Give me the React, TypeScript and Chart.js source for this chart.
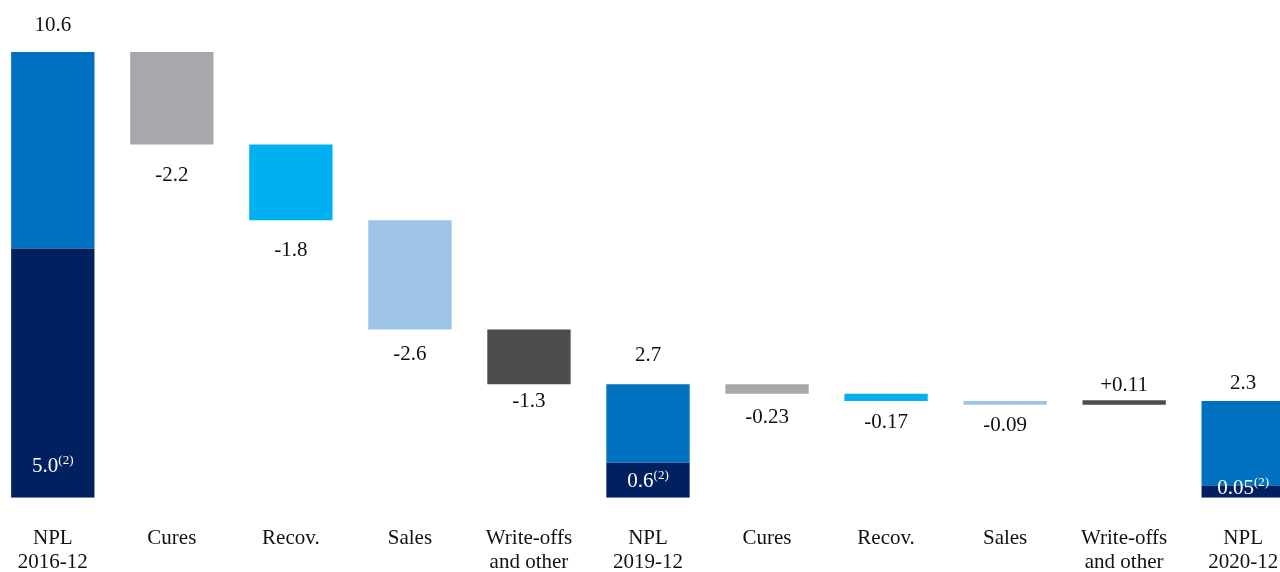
import React, { useEffect, useRef } from "react";
import { Chart, registerables } from "chart.js";

Chart.register(...registerables);

const categories: string[][] = [
  ["NPL", "2016-12"],
  ["Cures"],
  ["Recov."],
  ["Sales"],
  ["Write-offs", "and other"],
  ["NPL", "2019-12"],
  ["Cures"],
  ["Recov."],
  ["Sales"],
  ["Write-offs", "and other"],
  ["NPL", "2020-12"],
];
const isTotal = [true, false, false, false, false, true, false, false, false, false, true];
const values = [10.6, -2.2, -1.8, -2.6, -1.3, 2.7, -0.23, -0.17, -0.09, 0.11, 2.3];
const valueLabels = ["10.6", "-2.2", "-1.8", "-2.6", "-1.3", "2.7", "-0.23", "-0.17", "-0.09", "+0.11", "2.3"];
const baseValues: (number | null)[] = [5.93, null, null, null, null, 0.83, null, null, null, null, 0.29];
const baseLabels: (string | null)[] = ["5.0", null, null, null, null, "0.6", null, null, null, null, "0.05"];
const footnoteMark = "(2)";
const barColors = [
  "#0070C0", "#A7A8AB", "#00B0F0", "#9DC3E6", "#4D4D4D",
  "#0070C0", "#A7A8AB", "#00B0F0", "#9DC3E6", "#4D4D4D", "#0070C0",
];
const baseColor = "#002060";

const FONT = "'Liberation Serif', 'Times New Roman', serif";

// build floating ranges from the values
const ranges: [number, number][] = [];
{
  let running = 0;
  values.forEach((v, i) => {
    if (isTotal[i]) {
      const b = baseValues[i] ?? 0;
      ranges.push([b, v]);
      running = v;
    } else {
      ranges.push([running, running + v]);
      running += v;
    }
  });
}
const baseRanges = baseValues.map((b) => (b == null ? null : [0, b]));

// styling: label gap from bar edge, and lift of inner labels from the baseline
const labelGap = [27, 31, 30, 25, 17, 29, 24, 21, 21, 15, 18];
const innerLift = [31, 0, 0, 0, 0, 16, 0, 0, 0, 0, 9];

const labelPlugin = {
  id: "wfLabels",
  afterDatasetsDraw(chart: any) {
    const { ctx } = chart;
    const xs = chart.scales.x;
    const ys = chart.scales.y;
    ctx.save();
    ctx.textAlign = "center";
    ctx.textBaseline = "middle";
    values.forEach((v, i) => {
      const x = xs.getPixelForValue(i);
      const r = ranges[i];
      const hi = Math.max(r[0], r[1]);
      const lo = Math.min(r[0], r[1]);
      ctx.fillStyle = "#111";
      ctx.font = `21px ${FONT}`;
      if (isTotal[i] || v > 0) {
        const top = isTotal[i] ? ys.getPixelForValue(v) : ys.getPixelForValue(hi);
        ctx.fillText(valueLabels[i], x, top - labelGap[i]);
      } else {
        const bot = ys.getPixelForValue(lo);
        ctx.fillText(valueLabels[i], x, bot + labelGap[i]);
      }
      const bl = baseLabels[i];
      if (bl) {
        const y = ys.getPixelForValue(0) - innerLift[i];
        ctx.font = `21px ${FONT}`;
        const w1 = ctx.measureText(bl).width;
        ctx.font = `13px ${FONT}`;
        const w2 = ctx.measureText(footnoteMark).width;
        const start = x - (w1 + w2) / 2;
        ctx.textAlign = "left";
        ctx.fillStyle = "#ffffff";
        ctx.font = `21px ${FONT}`;
        ctx.fillText(bl, start, y);
        ctx.font = `13px ${FONT}`;
        ctx.fillText(footnoteMark, start + w1, y - 6);
        ctx.textAlign = "center";
      }
    });
    ctx.restore();
  },
};

export default function App() {
  const ref = useRef<HTMLCanvasElement>(null);
  useEffect(() => {
    document.body.style.margin = "0";
    document.body.style.overflow = "hidden";
    const chart = new Chart(ref.current!, {
      type: "bar",
      data: {
        labels: categories,
        datasets: [
          {
            label: "base",
            data: baseRanges as any,
            backgroundColor: baseColor,
            grouped: false,
            categoryPercentage: 1,
            barPercentage: 0.7,
            borderWidth: 0,
          },
          {
            label: "main",
            data: ranges as any,
            backgroundColor: barColors,
            grouped: false,
            categoryPercentage: 1,
            barPercentage: 0.7,
            borderWidth: 0,
            borderSkipped: false,
          },
        ],
      },
      options: {
        responsive: false,
        animation: false,
        devicePixelRatio: 1,
        layout: { padding: 0 },
        plugins: { legend: { display: false }, tooltip: { enabled: false } },
        scales: {
          x: {
            grid: { display: false, drawTicks: false },
            border: { display: false },
            ticks: {
              color: "#111",
              font: { family: FONT, size: 21, lineHeight: 1.15 },
              padding: 29,
              maxRotation: 0,
              autoSkip: false,
            },
          },
          y: {
            display: false,
            min: 0,
            max: 11.84,
          },
        },
      },
      plugins: [labelPlugin],
    });
    return () => chart.destroy();
  }, []);
  return (
    <div style={{ position: "fixed", left: 0, top: 0, width: 1280, height: 572, overflow: "hidden", background: "#fff" }}>
      <canvas ref={ref} width={1318} height={604} style={{ position: "absolute", left: -11, top: 0 }} />
    </div>
  );
}
